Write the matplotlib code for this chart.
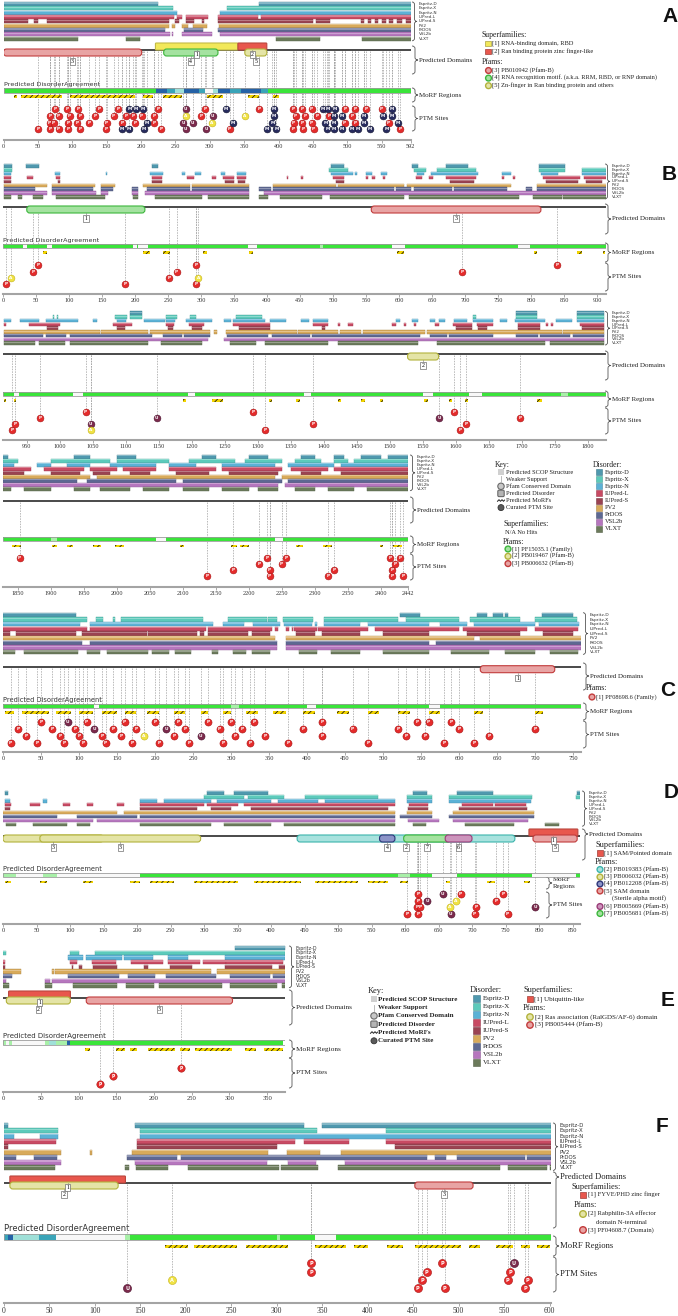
import matplotlib
matplotlib.use("Agg")
import matplotlib.pyplot as plt
import matplotlib.colors as mcolors
from matplotlib.patches import FancyBboxPatch, Rectangle, PathPatch, Circle
from matplotlib.path import Path

plt.rcParams['hatch.linewidth'] = 0.55
plt.rcParams['hatch.color'] = '#111111'
SERIF = ['Liberation Serif', 'DejaVu Serif']
SANS = ['DejaVu Sans']
BOLD = ['Liberation Sans', 'DejaVu Sans']

# ---------------------------------------------------------------- data
PREDICTORS = ["Espritz-D", "Espritz-X", "Espritz-N", "IUPred-L", "IUPred-S",
              "PV2", "PrDOS", "VSL2b", "VLXT"]
PRED_COLORS = ['#4f98ae', '#5ccabb', '#5bb2d6', '#c84a63', '#9a4352',
               '#d8aa5a', '#5d6892', '#b676be', '#6b7a5b']
KEY_ITEMS = ["Predicted SCOP Structure", "Weaker Support", "Pfam Conserved Domain",
             "Predicted Disorder", "Predicted MoRFs", "Curated PTM Site"]

# ---- Panel A (1-592)
A_ticks = [0, 50, 100, 150, 200, 250, 300, 350, 400, 450, 500, 550, 592]
A_tracks = [
    [(0, 224), (371, 592)],
    [(0, 246), (325, 592)],
    [(0, 252), (315, 592)],
    [(0, 248), (252, 259), (266, 298), (312, 370), (374, 592)],
    [(0, 36), (45, 50), (63, 240), (250, 255), (266, 277), (288, 292), (312, 450), (455, 475),
     (520, 525), (530, 535), (540, 545), (550, 556), (560, 566), (572, 580), (585, 592)],
    [(0, 240), (245, 250), (259, 269), (276, 296), (313, 592)],
    [(0, 235), (262, 290), (312, 592)],
    [(0, 242), (245, 247), (259, 303), (315, 592)],
    [(0, 109), (178, 199), (396, 460), (521, 592)],
]
A_domains = [(221, 341, 'SF', 'yellow', 1), (341, 383, 'SF', 'red', 2),
             (0, 201, 'PF', 'red', 3), (233, 312, 'PF', 'green', 4), (351, 383, 'PF', 'olive', 5)]
A_agree = [(0, 222, 'g'), (222, 238, 'b'), (238, 250, 't'), (250, 262, 'c'), (262, 285, 'b'),
           (285, 293, 't'), (293, 305, 'w'), (305, 312, 'c'), (312, 330, 'b'), (330, 345, 't'),
           (345, 375, 'b'), (375, 385, 't'), (385, 592, 'g')]
A_morf = [(15, 19), (25, 85), (97, 191), (203, 217), (232, 259), (296, 319), (356, 372), (392, 400)]
A_ptm = [
    (75, 'P', 0), (92, 'P', 0), (109, 'P', 0), (139, 'P', 0), (167, 'P', 0), (183, 'M', 0), (193, 'M', 0),
    (203, 'M', 0), (225, 'P', 0), (265, 'U', 0), (293, 'P', 0), (324, 'M', 0), (372, 'P', 0), (393, 'M', 0),
    (421, 'P', 0), (434, 'P', 0), (448, 'P', 0), (464, 'M', 0), (472, 'M', 0), (482, 'M', 0), (497, 'P', 0),
    (511, 'P', 0), (527, 'P', 0), (550, 'P', 0), (565, 'M', 0),
    (68, 'P', 1), (80, 'P', 1), (96, 'P', 1), (111, 'P', 1), (133, 'P', 1), (160, 'P', 1), (178, 'P', 1),
    (188, 'P', 1), (201, 'P', 1), (219, 'P', 1), (265, 'A', 1), (287, 'P', 1), (304, 'U', 1), (351, 'A', 1),
    (393, 'M', 1), (425, 'P', 1), (439, 'P', 1), (456, 'P', 1), (474, 'P', 1), (481, 'M', 1), (492, 'M', 1),
    (507, 'P', 1), (524, 'M', 1), (552, 'M', 1), (565, 'M', 1),
    (67, 'P', 2), (73, 'P', 2), (94, 'P', 2), (107, 'P', 2), (125, 'P', 2), (150, 'P', 2), (173, 'P', 2),
    (191, 'P', 2), (208, 'M', 2), (219, 'P', 2), (261, 'U', 2), (275, 'U', 2), (303, 'A', 2), (334, 'M', 2),
    (391, 'M', 2), (422, 'P', 2), (434, 'P', 2), (448, 'P', 2), (468, 'M', 2), (481, 'M', 2), (496, 'P', 2),
    (511, 'P', 2), (524, 'M', 2), (560, 'P', 2), (574, 'M', 2),
    (50, 'P', 3), (68, 'P', 3), (80, 'P', 3), (94, 'P', 3), (111, 'P', 3), (149, 'P', 3), (172, 'M', 3),
    (182, 'M', 3), (204, 'M', 3), (229, 'P', 3), (265, 'U', 3), (295, 'U', 3), (329, 'P', 3), (383, 'M', 3),
    (397, 'M', 3), (421, 'P', 3), (436, 'P', 3), (451, 'P', 3), (471, 'M', 3), (481, 'M', 3), (492, 'M', 3),
    (507, 'M', 3), (516, 'M', 3), (533, 'M', 3), (557, 'M', 3), (577, 'P', 3),
]
A_superfamilies = ["[1] RNA-binding domain, RBD", "[2] Ran binding protein zinc finger-like"]
A_sf_colors = ['yellow', 'red']
A_pfams = ["[3] PB010942 (Pfam-B)", "[4] RNA recognition motif. (a.k.a. RRM, RBD, or RNP domain)",
           "[5] Zn-finger in Ran binding protein and others"]
A_pf_colors = ['red', 'green', 'olive']

# ---- Panel B (1-2442, three rows)
B1_ticks = list(range(0, 901, 50))
B1_tracks = [
    [(2, 14), (35, 54), (225, 235), (497, 517), (619, 629), (671, 704), (812, 852)],
    [(2, 14), (494, 523), (622, 641), (658, 717), (812, 852), (877, 914)],
    [(2, 12), (79, 86), (156, 158), (222, 243), (271, 276), (291, 300), (330, 336), (355, 368), (497, 530),
     (533, 537), (550, 559), (572, 582), (628, 638), (648, 720), (756, 769), (815, 841), (877, 914)],
    [(2, 12), (36, 45), (81, 87), (225, 241), (279, 289), (317, 323), (333, 350), (355, 368), (430, 432),
     (451, 454), (500, 517), (550, 553), (559, 563), (576, 579), (625, 635), (645, 651), (671, 717),
     (756, 759), (772, 776), (818, 874), (881, 914)],
    [(2, 12), (84, 87), (225, 241), (336, 350), (356, 366), (504, 517), (677, 714), (822, 871), (884, 907)],
    [(2, 66), (74, 140), (148, 169), (212, 284), (287, 372), (409, 504), (507, 608), (612, 769), (809, 914)],
    [(2, 48), (74, 136), (148, 167), (195, 205), (218, 284), (287, 372), (388, 406), (409, 592), (595, 618),
     (622, 681), (684, 763), (792, 802), (809, 914)],
    [(2, 66), (74, 141), (148, 159), (195, 205), (215, 372), (395, 914)],
    [(2, 12), (23, 29), (45, 60), (81, 155), (197, 205), (231, 302), (310, 372), (388, 401), (420, 484),
     (495, 608), (615, 782), (803, 847), (849, 914)],
]
B1_domains = [(36, 215, 'PF', 'green', 1), (558, 815, 'PF', 'red', 3)]
B1_agree = [(0, 30, 'g'), (30, 36, 'w'), (36, 66, 'g'), (66, 74, 'w'), (74, 197, 'g'), (197, 203, 'w'),
            (203, 205, 'g'), (205, 220, 'w'), (220, 371, 'g'), (371, 385, 'w'), (385, 480, 'g'),
            (480, 485, 'l'), (485, 589, 'g'), (589, 609, 'w'), (609, 780, 'g'), (780, 798, 'w'), (798, 914, 'g')]
B1_morf = [(61, 66), (212, 223), (243, 253), (303, 309), (372, 379), (597, 608), (805, 809), (870, 877), (909, 912)]
B1_ptm = [(5, 'P', 3), (12, 'A', 2), (45, 'P', 1), (53, 'P', 0), (185, 'P', 3), (252, 'P', 2), (263, 'P', 1),
          (292, 'P', 0), (296, 'A', 2), (293, 'P', 3), (696, 'P', 1), (839, 'P', 0)]

B2_ticks = list(range(950, 1801, 50))
B2_tracks = [
    [(1106, 1124), (1691, 1723), (1784, 1824)],
    [(990, 991), (996, 998), (1084, 1102), (1106, 1124), (1161, 1177), (1198, 1207), (1267, 1307),
     (1626, 1631), (1691, 1723), (1784, 1824)],
    [(916, 926), (939, 969), (979, 1028), (1051, 1056), (1086, 1100), (1127, 1159), (1161, 1175), (1191, 1230),
     (1249, 1259), (1263, 1311), (1318, 1343), (1366, 1377), (1384, 1407), (1510, 1516), (1533, 1543),
     (1561, 1569), (1574, 1584), (1597, 1617), (1626, 1656), (1667, 1677), (1690, 1735), (1752, 1776),
     (1784, 1824)],
    [(916, 919), (954, 1000), (1081, 1109), (1161, 1173), (1196, 1218), (1263, 1319), (1383, 1407),
     (1422, 1425), (1437, 1444), (1504, 1509), (1522, 1525), (1537, 1540), (1569, 1574), (1596, 1624),
     (1632, 1657), (1695, 1728), (1737, 1740), (1745, 1748), (1788, 1824)],
    [(980, 998), (1086, 1099), (1164, 1171), (1201, 1216), (1271, 1318), (1397, 1402), (1601, 1624),
     (1634, 1647), (1695, 1728), (1791, 1824)],
    [(916, 1061), (1063, 1134), (1137, 1228), (1233, 1238), (1252, 1359), (1361, 1422), (1425, 1457),
     (1459, 1553), (1556, 1761), (1763, 1824)],
    [(916, 974), (979, 1010), (1015, 1139), (1156, 1185), (1188, 1228), (1253, 1316), (1321, 1379),
     (1382, 1546), (1561, 1586), (1589, 1657), (1692, 1724), (1727, 1773), (1777, 1824)],
    [(916, 1225), (1249, 1824)],
    [(916, 962), (968, 1008), (1016, 1134), (1154, 1215), (1258, 1298), (1311, 1407), (1422, 1543),
     (1571, 1735), (1743, 1824)],
]
B2_domains = [(1527, 1574, 'PF', 'olive', 2)]
B2_agree = [(914, 930, 'g'), (930, 938, 'w'), (938, 1020, 'g'), (1020, 1035, 'w'), (1035, 1195, 'g'),
            (1195, 1205, 'w'), (1205, 1370, 'g'), (1370, 1380, 'w'), (1380, 1550, 'g'), (1550, 1565, 'w'),
            (1565, 1620, 'g'), (1620, 1640, 'w'), (1640, 1760, 'g'), (1760, 1770, 'l'), (1770, 1828, 'g')]
B2_morf = [(916, 918), (931, 934), (1186, 1191), (1231, 1247), (1317, 1322), (1358, 1364), (1421, 1426),
           (1457, 1462), (1485, 1490), (1552, 1558), (1589, 1594), (1614, 1619), (1723, 1730)]
B2_ptm = [(928, 'P', 3), (932, 'P', 2), (970, 'P', 1), (1039, 'P', 0), (1047, 'U', 2), (1047, 'A', 3),
          (1147, 'U', 1), (1293, 'P', 0), (1311, 'P', 3), (1384, 'P', 2), (1575, 'U', 1), (1598, 'P', 0),
          (1616, 'P', 2), (1607, 'P', 3), (1698, 'P', 1)]

B3_ticks = list(range(1850, 2401, 50)) + [2442]
B3_tracks = [
    [(1828, 1835), (1935, 1960), (2000, 2030), (2130, 2150), (2200, 2230), (2280, 2300), (2330, 2345),
     (2370, 2400), (2412, 2442)],
    [(1828, 1850), (1900, 1990), (2000, 2080), (2110, 2180), (2195, 2250), (2270, 2310), (2330, 2350), (2360, 2442)],
    [(1828, 1845), (1880, 1900), (1925, 1960), (1990, 2060), (2080, 2120), (2160, 2240), (2260, 2330), (2340, 2442)],
    [(1828, 1870), (1890, 1950), (1960, 2000), (2010, 2060), (2080, 2150), (2160, 2250), (2265, 2320), (2330, 2442)],
    [(1828, 1860), (1900, 1945), (1965, 1990), (2020, 2050), (2090, 2140), (2170, 2245), (2280, 2310), (2340, 2442)],
    [(1828, 1960), (1970, 2240), (2250, 2442)],
    [(1828, 1940), (1955, 2090), (2100, 2250), (2260, 2442)],
    [(1828, 2245), (2255, 2442)],
    [(1828, 1840), (1860, 1900), (1935, 1960), (1975, 2020), (2040, 2080), (2100, 2140), (2160, 2200),
     (2215, 2245), (2270, 2300), (2320, 2360), (2380, 2442)],
]
B3_domains = []
B3_agree = [(1828, 1900, 'g'), (1900, 1910, 'l'), (1910, 2060, 'g'), (2060, 2075, 'w'), (2075, 2240, 'g'),
            (2240, 2252, 'w'), (2252, 2442, 'g')]
B3_morf = [(1841, 1856), (1902, 1910), (1925, 1934), (1965, 1977), (1998, 2011), (2096, 2102), (2174, 2182),
           (2187, 2200), (2272, 2283), (2313, 2326), (2399, 2404), (2419, 2432)]
B3_ptm = [(1853, 'P', 0), (2137, 'P', 3), (2177, 'P', 2), (2216, 'P', 1), (2228, 'P', 0), (2232, 'P', 2),
          (2232, 'P', 3), (2250, 'P', 1), (2257, 'P', 0), (2320, 'P', 3), (2330, 'P', 2), (2414, 'P', 0),
          (2430, 'P', 0), (2422, 'P', 1), (2418, 'P', 2), (2417, 'P', 3), (2434, 'P', 3)]
B_superfamilies = ["N/A No Hits"]
B_pfams = ["[1] PF15035.1 (Family)", "[2] PB019467 (Pfam-B)", "[3] PB006632 (Pfam-B)"]
B_pf_colors = ['green', 'olive', 'red']

# ---- Panel C (1-760)
C_ticks = list(range(0, 751, 50))
C_tracks = [
    [(0, 96), (522, 549), (624, 637), (645, 658), (660, 664), (709, 750)],
    [(0, 111), (122, 131), (145, 147), (155, 263), (296, 347), (349, 360), (369, 408), (422, 520), (530, 600),
     (615, 680), (700, 755)],
    [(0, 101), (115, 276), (289, 317), (329, 364), (370, 406), (410, 413), (423, 470), (480, 560), (575, 610),
     (620, 700), (705, 758)],
    [(0, 111), (114, 267), (270, 354), (358, 362), (372, 376), (380, 382), (383, 413), (415, 480), (490, 600),
     (605, 690), (700, 757)],
    [(0, 9), (17, 96), (104, 189), (191, 255), (259, 264), (270, 323), (327, 351), (385, 410), (420, 470),
     (500, 560), (610, 680), (710, 750)],
    [(0, 358), (373, 620), (628, 760)],
    [(0, 104), (115, 360), (373, 560), (570, 760)],
    [(0, 360), (373, 760)],
    [(0, 16), (28, 99), (111, 127), (137, 191), (196, 219), (226, 247), (275, 283), (302, 320), (327, 351),
     (389, 413), (432, 470), (500, 560), (590, 640), (660, 700), (720, 757)],
]
C_domains = [(628, 726, 'PF', 'red', 1)]
C_agree = [(0, 120, 'g'), (120, 126, 'w'), (126, 300, 'g'), (300, 310, 'l'), (310, 400, 'g'), (400, 412, 'w'),
           (412, 560, 'g'), (560, 575, 'w'), (575, 760, 'g')]
C_morf = [(2, 15), (25, 60), (70, 90), (100, 118), (130, 150), (160, 175), (190, 205), (225, 240), (260, 270),
          (290, 300), (320, 335), (355, 372), (395, 410), (440, 455), (480, 495), (520, 535), (560, 575),
          (620, 632), (700, 710)]
C_ptm = [(50, 'P', 0), (85, 'U', 0), (110, 'P', 0), (160, 'P', 0), (200, 'P', 0), (230, 'P', 0), (270, 'P', 0),
         (300, 'P', 0), (330, 'P', 0), (420, 'P', 0), (545, 'P', 0), (560, 'P', 0), (590, 'P', 0),
         (20, 'P', 1), (65, 'P', 1), (95, 'P', 1), (120, 'U', 1), (145, 'P', 1), (175, 'P', 1), (215, 'U', 1),
         (240, 'P', 1), (285, 'P', 1), (315, 'P', 1), (395, 'P', 1), (460, 'P', 1), (520, 'P', 1), (600, 'P', 1),
         (700, 'P', 1),
         (30, 'P', 2), (75, 'P', 2), (100, 'P', 2), (130, 'P', 2), (155, 'P', 2), (185, 'A', 2), (225, 'P', 2),
         (260, 'U', 2), (305, 'P', 2), (345, 'P', 2), (420, 'P', 2), (530, 'P', 2), (555, 'P', 2), (640, 'P', 2),
         (10, 'P', 3), (45, 'P', 3), (80, 'P', 3), (105, 'P', 3), (135, 'P', 3), (170, 'P', 3), (205, 'P', 3),
         (245, 'P', 3), (290, 'P', 3), (325, 'P', 3), (375, 'P', 3), (480, 'P', 3), (580, 'P', 3), (620, 'P', 3)]
C_pfams = ["[1] PF08698.6 (Family)"]

# ---- Panel D (1-861)
D_ticks = list(range(0, 851, 50))
D_tracks = [
    [(3, 8), (305, 330), (345, 395), (612, 633), (678, 731), (857, 861)],
    [(300, 360), (365, 420), (450, 560), (603, 640), (665, 789), (855, 861)],
    [(3, 10), (60, 66), (205, 230), (240, 310), (320, 400), (410, 470), (480, 585), (603, 640), (665, 788)],
    [(3, 12), (40, 55), (90, 100), (125, 135), (170, 180), (205, 300), (305, 350), (360, 585), (606, 634),
     (685, 732), (734, 781)],
    [(3, 10), (205, 290), (310, 340), (370, 575), (605, 635), (680, 782)],
    [(0, 170), (180, 585), (603, 641), (672, 792)],
    [(0, 80), (110, 200), (205, 585), (593, 640), (665, 792)],
    [(0, 135), (140, 585), (605, 650), (672, 784)],
    [(5, 20), (45, 95), (110, 130), (205, 310), (330, 400), (420, 585), (612, 631), (690, 762), (809, 830)],
]
D_domains = [(785, 858, 'SF', 'red', 1), (439, 764, 'PF', 'teal', 2), (0, 150, 'PF', 'olive', 3),
             (55, 295, 'PF', 'olive', 3), (562, 585, 'PF', 'navy', 4), (791, 857, 'PF', 'red', 5),
             (598, 668, 'PF', 'green', 7), (660, 700, 'PF', 'purple', 6)]
D_agree = [(0, 20, 'l'), (20, 60, 'w'), (60, 80, 'l'), (80, 204, 'w'), (204, 590, 'g'), (590, 608, 'l'),
           (608, 640, 'g'), (640, 677, 'w'), (677, 789, 'g'), (789, 855, 'w'), (855, 861, 'g')]
D_morf = [(3, 12), (55, 66), (120, 135), (190, 205), (220, 255), (285, 350), (375, 445), (465, 530),
          (545, 575), (593, 605), (661, 667), (722, 734), (777, 786)]
D_ptm = [(620, 'P', 0), (656, 'U', 0), (683, 'P', 0), (747, 'P', 0), (736, 'P', 1), (620, 'P', 1),
         (633, 'U', 1), (676, 'A', 1), (618, 'P', 2), (623, 'P', 2), (667, 'A', 2), (706, 'P', 2),
         (794, 'U', 2), (603, 'P', 3), (620, 'P', 3), (668, 'U', 3), (704, 'P', 3), (753, 'P', 3)]
D_superfamilies = ["[1] SAM/Pointed domain"]
D_pfams = ["[2] PB019383 (Pfam-B)", "[3] PB006032 (Pfam-B)", "[4] PB012208 (Pfam-B)", "[5] SAM domain",
           "(Sterile alpha motif)", "[6] PB005669 (Pfam-B)", "[7] PB005681 (Pfam-B)"]
D_pf_colors = ['teal', 'olive', 'navy', 'red', None, 'purple', 'green']

# ---- Panel E (1-374)
E_ticks = list(range(0, 351, 50))
E_tracks = [
    [(307, 374)],
    [(0, 4), (88, 101), (122, 374)],
    [(86, 106), (110, 157), (160, 198), (219, 245), (294, 374)],
    [(0, 2), (88, 98), (118, 150), (170, 212), (219, 261), (265, 296), (296, 371)],
    [(0, 2), (91, 93), (101, 105), (119, 151), (186, 192), (221, 250), (294, 356), (366, 374)],
    [(0, 24), (65, 67), (68, 276), (283, 374)],
    [(0, 12), (86, 153), (166, 201), (216, 282), (301, 354), (358, 374)],
    [(0, 4), (55, 62), (64, 374)],
    [(0, 8), (55, 65), (92, 151), (163, 200), (206, 290), (301, 363), (369, 374)],
]
E_domains = [(7, 89, 'SF', 'red', 1), (4, 89, 'PF', 'olive', 2), (110, 304, 'PF', 'red', 3)]
E_agree = [(0, 3, 'l'), (3, 7, 'w'), (7, 11, 'l'), (11, 55, 'w'), (55, 60, 'l'), (60, 70, 'c'), (70, 85, 'l'),
           (85, 89, 'b'), (89, 371, 'g')]
E_morf = [(108, 115), (150, 161), (168, 177), (192, 228), (234, 248), (254, 303), (320, 335), (346, 371)]
E_ptm = [(236, 'P', 1), (146, 'P', 2), (128, 'P', 3)]
E_superfamilies = ["[1] Ubiquitin-like"]
E_pfams = ["[2] Ras association (RalGDS/AF-6) domain", "[3] PB005444 (Pfam-B)"]
E_pf_colors = ['olive', 'red']

# ---- Panel F (1-602)
F_ticks = list(range(0, 601, 50))
F_tracks = [
    [(0, 5), (145, 330), (350, 602)],
    [(0, 60), (150, 345), (420, 602)],
    [(0, 12), (40, 60), (150, 602)],
    [(0, 58), (147, 320), (330, 380), (420, 602)],
    [(0, 5), (147, 300), (430, 602)],
    [(1, 63), (95, 97), (141, 291), (311, 348), (371, 602)],
    [(1, 14), (34, 59), (136, 191), (195, 465), (474, 486), (498, 573), (575, 602)],
    [(1, 63), (145, 290), (313, 343), (375, 602)],
    [(1, 57), (134, 138), (146, 181), (203, 303), (305, 346), (368, 546), (554, 597), (600, 602)],
]
F_domains = [(7, 134, 'SF', 'red', 1), (7, 126, 'PF', 'olive', 2), (452, 516, 'PF', 'red', 3)]
F_agree = [(0, 5, 't'), (5, 10, 'b'), (10, 39, 'c'), (39, 58, 't'), (58, 134, 'w'), (134, 139, 'l'),
           (139, 300, 'g'), (300, 304, 'l'), (304, 342, 'g'), (342, 365, 'w'), (365, 602, 'g')]
F_morf = [(177, 203), (209, 257), (267, 313), (342, 376), (385, 400), (421, 439), (452, 503), (512, 524),
          (541, 560), (569, 579), (586, 600)]
F_ptm = [(136, 'U', 3), (185, 'A', 2), (338, 'P', 0), (338, 'P', 1), (455, 'P', 3), (460, 'P', 2),
         (465, 'P', 1), (482, 'P', 0), (485, 'P', 3), (561, 'U', 0), (557, 'P', 1), (554, 'P', 2),
         (576, 'P', 2), (573, 'P', 3)]
F_superfamilies = ["[1] FYVE/PHD zinc finger"]
F_pfams = ["[2] Rabphilin-3A effector", "domain N-terminal", "[3] PF04608.7 (Domain)"]
F_pf_colors = ['olive', None, 'red']

# ---------------------------------------------------------------- styles
SF_COLORS = {'yellow': '#f2e85a', 'red': '#e8574d'}
PF_COLORS = {'red': ('#e8a4a4', '#c23c3c'), 'green': ('#a4e2a0', '#3cb63c'),
             'olive': ('#e4e4a6', '#b2b23c'), 'teal': ('#a8e2de', '#3cb4ac'),
             'navy': ('#8c94c8', '#2c3478'), 'purple': ('#cc94bc', '#9a3c78')}
AGREE_COLORS = {'g': '#3ae43a', 'l': '#a8f0a8', 'w': '#f8f8f8', 'b': '#2562a6',
                't': '#3aa4b8', 'c': '#9fe0d8'}
PTM_STYLE = {'P': ('#e52b2b', '#a81616'), 'M': ('#272b5e', '#111330'),
             'U': ('#7c2a4c', '#4c1430'), 'A': ('#f0e244', '#c4b41e')}

W, H = 678, 1316
fig = plt.figure(figsize=(W / 100, H / 100), dpi=100)
ov = fig.add_axes([0, 0, 1, 1], label='overlay')
ov.set_xlim(0, W)
ov.set_ylim(H, 0)
ov.axis('off')


def darker(c, f=0.75):
    r, g, b = mcolors.to_rgb(c)
    return (r * f, g * f, b * f)


def lighter(c, f=0.35):
    r, g, b = mcolors.to_rgb(c)
    return (r + (1 - r) * f, g + (1 - g) * f, b + (1 - b) * f)


def draw_row(L, tracks, domains, agree, morf, ptm, ticks):
    x0, s, d0, d1 = L['x0'], L['s'], L['d0'], L['d1']
    xr = x0 + s * (d1 - d0)
    ytop, ybot = L['top'] - 1, L['axis']
    ax = fig.add_axes([x0 / W, 1 - ybot / H, (xr - x0) / W, (ybot - ytop) / H], label=L['name'])
    ax.set_xlim(d0, d1)
    ax.set_ylim(ybot, ytop)
    ax.patch.set_alpha(0)
    for sp in ('top', 'left', 'right'):
        ax.spines[sp].set_visible(False)
    ax.spines['bottom'].set_color('#a4a4a4')
    ax.spines['bottom'].set_linewidth(1.5)
    ax.set_yticks([])
    ax.set_xticks(ticks)
    ax.set_xticklabels([str(t) for t in ticks], fontfamily=SERIF, fontsize=L['tfs'], color='#333333')
    ax.tick_params(axis='x', length=1.8, width=0.5, color='#888888', pad=1.2)
    # disorder tracks
    for i, ivs in enumerate(tracks):
        y = L['top'] + i * L['pitch']
        col = PRED_COLORS[i]
        segs = [(a, b - a) for a, b in ivs]
        ax.broken_barh(segs, (y, L['th']), facecolors=col, edgecolors=darker(col, 0.8), linewidth=0.3, zorder=2)
        ax.broken_barh(segs, (y + 0.35, L['th'] * 0.3), facecolors=lighter(col, 0.3), linewidth=0, zorder=2.1)
    line = L['line']
    # ptm drop lines
    rows = L['ptm']
    for pos, t, lev in ptm:
        ax.plot([pos, pos], [line + 1, rows[lev]], color='#a0a0a0', lw=0.5, ls=(0, (2.2, 1.6)), zorder=1)
    ax.plot([d0, d1], [line, line], color='#3a3a3a', lw=1.3, zorder=3, solid_capstyle='butt')
    # domains
    for a, b, kind, ck, lab in domains:
        if kind == 'SF':
            y, h, rr = line - 7, 7, 0.8
            fc = SF_COLORS[ck]
            ec = darker(fc, 0.8)
            ly = line + 1
        else:
            y, h, rr = line - 1, 7, 3.0
            fc, ec = PF_COLORS[ck]
            ly = line + 8
        ax.add_patch(FancyBboxPatch((a, y), b - a, h, boxstyle=f"round,pad=0,rounding_size={rr / s}",
                                    mutation_aspect=s, fc=fc, ec=ec, lw=0.8, zorder=4))
        cx = (a + b) / 2
        bw = 5.5 / s
        ax.plot([cx, cx], [y + h, ly], color='#777777', lw=0.4, zorder=5)
        ax.add_patch(Rectangle((cx - bw / 2, ly), bw, 6.6, fc='white', ec='#707070', lw=0.5, zorder=6))
        ax.text(cx, ly + 3.4, str(lab), ha='center', va='center', fontsize=4.2, fontfamily=SERIF, zorder=7)
    # agreement bar
    ay, ah = L['agree'], L['agree_h']
    for key, col in AGREE_COLORS.items():
        segs = [(a, b - a) for a, b, k in agree if k == key]
        if segs:
            ax.broken_barh(segs, (ay, ah), facecolors=col, linewidth=0, zorder=3)
    ax.add_patch(Rectangle((d0, ay), d1 - d0, ah, fc='none', ec='#9c9c9c', lw=0.6, zorder=4))
    if L['text']:
        ov.text(x0, ay - 1.2, "Predicted DisorderAgreement", fontsize=L['afs'], family=SANS,
                color='#333333', ha='left', va='bottom')
    # MoRFs
    ax.broken_barh([(a, b - a) for a, b in morf], (L['morf'], 2.8), facecolors='#f2d400',
                   edgecolors='#111111', hatch='//////', linewidth=0, zorder=3)
    # PTM circles
    for t, (fc, ec) in PTM_STYLE.items():
        pts = [(p, rows[lev]) for p, tt, lev in ptm if tt == t]
        if not pts:
            continue
        ax.scatter([p for p, _ in pts], [y for _, y in pts], s=L['ms'], c=fc, edgecolors=ec,
                   linewidths=0.4, zorder=8, clip_on=False)
        for p, y in pts:
            ax.text(p, y + 0.2, t, fontsize=L['ms'] ** 0.5 * 0.62, color='white', ha='center', va='center',
                    family=SANS, fontweight='bold', zorder=9, clip_on=False)
    return ax


def brace(x, y0, y1, w=5, lw=0.6, tip=None):
    m = (y0 + y1) / 2 if tip is None else tip
    r = min(2.5, (m - y0) / 2, (y1 - m) / 2)
    verts = [(x, y0), (x + w / 2, y0), (x + w / 2, y0 + r), (x + w / 2, m - r), (x + w / 2, m), (x + w, m),
             (x + w / 2, m), (x + w / 2, m + r), (x + w / 2, y1 - r), (x + w / 2, y1), (x, y1)]
    codes = [Path.MOVETO, Path.CURVE3, Path.CURVE3, Path.LINETO, Path.CURVE3, Path.CURVE3,
             Path.CURVE3, Path.CURVE3, Path.LINETO, Path.CURVE3, Path.CURVE3]
    ov.add_patch(PathPatch(Path(verts, codes), fc='none', ec='#555555', lw=lw))


def txt(x, y, s, fs, fam=SERIF, **kw):
    ov.text(x, y, s, fontsize=fs, family=fam, va='center', ha='left', color='#222222', **kw)


def right_labels(L, bx, nfs, lfs, dom=None, morf=None, ptm=None, lx=None, morf_two_lines=False, dom_tip=None):
    t0 = L['top']
    t1 = L['top'] + 8 * L['pitch'] + L['th']
    brace(bx, t0, t1)
    for i, n in enumerate(PREDICTORS):
        ov.text(bx + 6.5, L['top'] + i * L['pitch'] + L['th'] / 2, n, fontsize=nfs, family=SANS,
                va='center', ha='left', color='#333333')
    lx = bx if lx is None else lx
    if dom:
        tip = (dom[0] + dom[1]) / 2 if dom_tip is None else dom_tip
        brace(bx, dom[0], dom[1], w=6, tip=tip)
        txt(bx + 7, tip, "Predicted Domains", lfs)
    if morf:
        brace(lx, morf[0], morf[1], w=6)
        if morf_two_lines:
            txt(lx + 7, (morf[0] + morf[1]) / 2 - 3.6, "MoRF", lfs)
            txt(lx + 7, (morf[0] + morf[1]) / 2 + 3.6, "Regions", lfs)
        else:
            txt(lx + 7, (morf[0] + morf[1]) / 2, "MoRF Regions", lfs)
    if ptm:
        brace(lx, ptm[0], ptm[1], w=6)
        txt(lx + 7, (ptm[0] + ptm[1]) / 2, "PTM Sites", lfs)


def sq(x, y, fc, size=5.5):
    ov.add_patch(Rectangle((x, y - size / 2), size, size, fc=fc, ec=darker(fc, 0.7), lw=0.5))


def circ(x, y, key, r=2.9):
    fc, ec = PF_COLORS[key]
    ov.add_patch(Circle((x, y), r, fc=fc, ec=ec, lw=1.0))


def key_legend(x, y, fs, dy):
    txt(x, y, "Key:", fs + 1)
    ix = x + 6
    for i, item in enumerate(KEY_ITEMS):
        yy = y + dy * (i + 1)
        if i == 0:
            ov.add_patch(Rectangle((ix - 3, yy - 3), 6, 6, fc='#d0d0d0', ec='none'))
        elif i == 1:
            ov.plot([ix, ix], [yy - 3, yy + 3], color='#b0b0b0', lw=0.6)
        elif i == 2:
            ov.add_patch(Circle((ix, yy), 3.2, fc='#c8c8c8', ec='#6a6a6a', lw=0.8))
        elif i == 3:
            ov.add_patch(FancyBboxPatch((ix - 3.2, yy - 3.2), 6.4, 6.4, boxstyle="round,pad=0,rounding_size=1.2",
                                        fc='#b4b4b4', ec='#6a6a6a', lw=0.8))
        elif i == 4:
            ov.plot([ix - 3.5, ix - 2, ix - 0.5, ix + 1, ix + 2.5, ix + 3.5],
                    [yy + 0.8, yy - 0.8, yy + 0.8, yy - 0.8, yy + 0.8, yy - 0.4], color='#222222', lw=0.7)
        else:
            ov.add_patch(Circle((ix, yy), 3.0, fc='#5a5a5a', ec='#333333', lw=0.6))
        txt(ix + 4.5, yy, item, fs, fontweight='bold' if fs > 4.7 else 'normal')


def disorder_legend(x, y, fs, dy, sw=6):
    txt(x, y, "Disorder:", fs + 1)
    for i, (n, c) in enumerate(zip(PREDICTORS, PRED_COLORS)):
        yy = y + dy * (i + 1)
        ov.add_patch(Rectangle((x + 3, yy - sw / 2), sw, sw, fc=c, ec=darker(c, 0.8), lw=0.4))
        txt(x + 4 + sw + 1.5, yy, n, fs)


# ---------------------------------------------------------------- layout per row
LA = dict(name='A', x0=3.5, s=0.6875, d0=0, d1=592, top=2, pitch=4.35, th=4.0, line=50, agree=88, agree_h=4.5,
          text=True, afs=4.6, morf=95, ptm=[109, 116, 122.5, 129], axis=140, tfs=4.5, ms=24)
LB1 = dict(name='B1', x0=3, s=0.66, d0=0, d1=914, top=164, pitch=3.9, th=3.6, line=207, agree=244, agree_h=4,
           text=True, afs=4.6, morf=251, ptm=[265, 271.7, 277.5, 283.5], axis=294, tfs=4.5, ms=24)
LB2 = dict(name='B2', x0=3, s=0.66, d0=914, d1=1828, top=311.5, pitch=3.75, th=3.5, line=354, agree=392.5,
           agree_h=4, text=False, afs=4.6, morf=399, ptm=[411.7, 417.7, 424, 429.7], axis=440, tfs=4.5, ms=24)
LB3 = dict(name='B3', x0=3, s=0.66, d0=1828, d1=2442, top=455, pitch=4.0, th=3.7, line=500.7, agree=537,
           agree_h=4, text=False, afs=4.6, morf=544.5, ptm=[558, 564, 570, 576], axis=586.7, tfs=4.5, ms=24)
LC = dict(name='C', x0=3, s=0.76, d0=0, d1=760, top=612.7, pitch=4.67, th=4.3, line=666.7, agree=704,
          agree_h=4.2, text=True, afs=4.8, morf=711, ptm=[722, 729, 736, 743], axis=752, tfs=4.6, ms=26)
LD = dict(name='D', x0=3, s=0.67, d0=0, d1=861, top=791, pitch=3.95, th=3.6, line=836, agree=873, agree_h=4.4,
          text=True, afs=4.8, morf=880.5, ptm=[893.5, 900.5, 907, 913.5], axis=924, tfs=4.6, ms=26)
LE = dict(name='E', x0=3.3, s=0.754, d0=0, d1=374, top=946, pitch=4.67, th=4.3, line=998, agree=1040,
          agree_h=5, text=True, afs=5.0, morf=1048, ptm=[1061, 1068, 1076, 1084], axis=1092, tfs=4.8, ms=28)
LF = dict(name='F', x0=3.5, s=0.91, d0=0, d1=602, top=1123, pitch=5.3, th=5.0, line=1183, agree=1234,
          agree_h=5.5, text=True, afs=6.0, morf=1245, ptm=[1263, 1272, 1280, 1288], axis=1303, tfs=5.5, ms=34)

draw_row(LA, A_tracks, A_domains, A_agree, A_morf, A_ptm, A_ticks)
draw_row(LB1, B1_tracks, B1_domains, B1_agree, B1_morf, B1_ptm, B1_ticks)
draw_row(LB2, B2_tracks, B2_domains, B2_agree, B2_morf, B2_ptm, B2_ticks)
draw_row(LB3, B3_tracks, B3_domains, B3_agree, B3_morf, B3_ptm, B3_ticks)
draw_row(LC, C_tracks, C_domains, C_agree, C_morf, C_ptm, C_ticks)
draw_row(LD, D_tracks, D_domains, D_agree, D_morf, D_ptm, D_ticks)
draw_row(LE, E_tracks, E_domains, E_agree, E_morf, E_ptm, E_ticks)
draw_row(LF, F_tracks, F_domains, F_agree, F_morf, F_ptm, F_ticks)

# ---------------------------------------------------------------- right-hand labels and legends
right_labels(LA, 412, 3.0, 5.0, dom=(46, 74), morf=(88, 102), ptm=(106, 131))
right_labels(LB1, 605, 3.0, 5.0, dom=(204, 234), morf=(243, 262), ptm=(263, 291))
right_labels(LB2, 605, 3.0, 5.0, dom=(351, 380), morf=(391, 407), ptm=(408, 434))
right_labels(LB3, 410, 3.0, 5.0, dom=(497, 523), morf=(536, 553), ptm=(554, 580))
right_labels(LC, 583, 3.2, 5.0, dom=(663, 690), morf=(703, 720), ptm=(721, 748), dom_tip=676)
right_labels(LD, 582, 3.0, 5.0, dom=(829, 860), morf=(877, 889), ptm=(892, 918), lx=546,
             morf_two_lines=True, dom_tip=834)
right_labels(LE, 289, 3.4, 5.2, dom=(990, 1025), morf=(1040, 1058), ptm=(1058, 1088))
right_labels(LF, 553, 3.9, 6.2, dom=(1172, 1228), morf=(1236, 1256), ptm=(1257, 1292), dom_tip=1177)

# panel letters
for letter, (x, y) in zip("ABCDEF", [(670, 17), (669, 174), (668, 690), (671, 793), (668, 1000), (662, 1126)]):
    ov.text(x, y, letter, fontsize=15, family=BOLD, fontweight='bold', ha='center', va='center', color='#111111')

# A legend
txt(482, 35, "Superfamilies:", 5.6)
for i, (t, c) in enumerate(zip(A_superfamilies, A_sf_colors)):
    sq(485, 43.5 + 8 * i, SF_COLORS[c])
    txt(492, 43.5 + 8 * i, t, 4.6)
txt(482, 61.5, "Pfams:", 5.6)
for i, (t, c) in enumerate(zip(A_pfams, A_pf_colors)):
    circ(488.5, 70.5 + 7.6 * i, c)
    txt(492.5, 70.5 + 7.6 * i, t, 4.6)

# B legend
key_legend(495, 465, 4.6, 7.1)
disorder_legend(593, 465, 4.6, 7.1)
txt(503, 524, "Superfamilies:", 5.6)
txt(505, 532, B_superfamilies[0], 4.6)
txt(503, 541.7, "Pfams:", 5.6)
for i, (t, c) in enumerate(zip(B_pfams, B_pf_colors)):
    circ(508, 549 + 7.3 * i, c)
    txt(512.5, 549 + 7.3 * i, t, 4.6)

# C legend
txt(586, 688, "Pfams:", 5.6)
circ(592, 697, 'red')
txt(596.5, 697, C_pfams[0], 4.6)

# D legend
txt(595, 845, "Superfamilies:", 6.0)
sq(597, 853, SF_COLORS['red'])
txt(604, 853, D_superfamilies[0], 4.8)
txt(595, 862, "Pfams:", 6.0)
dys = [869.5, 877, 884, 891, 898, 906.5, 913.5]
for t, c, yy in zip(D_pfams, D_pf_colors, dys):
    if c is None:
        txt(612, yy, t, 4.8)
    else:
        circ(600, yy, c)
        txt(604, yy, t, 4.8)

# E legend
key_legend(368, 991, 5.0, 8.3)
disorder_legend(470, 990, 5.0, 8.1, sw=7)
txt(523, 990, "Superfamilies:", 6.0)
sq(527, 999, SF_COLORS['red'])
txt(534, 999, E_superfamilies[0], 5.0)
txt(523, 1008, "Pfams:", 6.0)
for i, (t, c) in enumerate(zip(E_pfams, E_pf_colors)):
    circ(530, 1017 + 8 * i, c, r=3.2)
    txt(535, 1017 + 8 * i, t, 5.0)

# F legend
txt(571, 1187, "Superfamilies:", 6.0)
sq(580, 1195, SF_COLORS['red'], size=6)
txt(588, 1195, F_superfamilies[0], 4.8)
txt(574, 1205, "Pfams:", 6.0)
for t, c, yy, xx in zip(F_pfams, F_pf_colors, [1214, 1222, 1230], [588, 596, 588]):
    if c is not None:
        circ(583, yy, c, r=3.3)
    txt(xx, yy, t, 4.8)

fig.savefig("out.png", dpi=100)
